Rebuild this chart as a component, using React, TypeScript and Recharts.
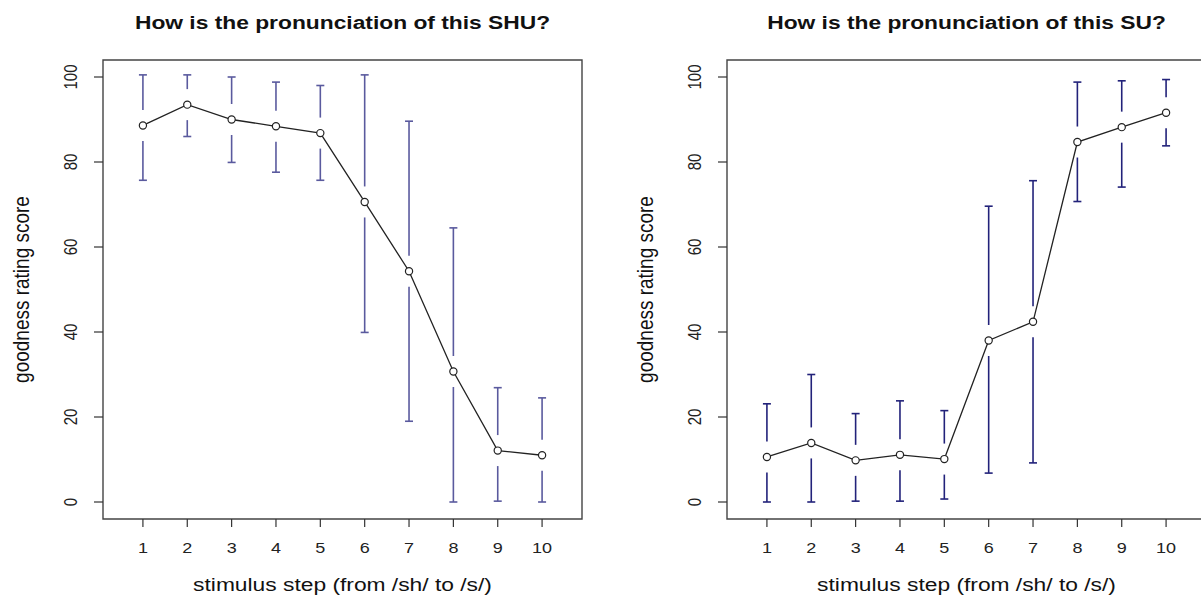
import { ComposedChart, Line, XAxis, YAxis, ReferenceArea, ReferenceLine } from 'recharts';

const steps = [1, 2, 3, 4, 5, 6, 7, 8, 9, 10];
const yTicks = [0, 20, 40, 60, 80, 100];

const shuMean = [88.6, 93.5, 90.0, 88.4, 86.8, 70.6, 54.3, 30.7, 12.1, 11.0];
const shuUpper = [100.5, 100.5, 100.0, 98.8, 98.0, 100.5, 89.6, 64.5, 26.9, 24.5];
const shuLower = [75.7, 86.0, 79.9, 77.6, 75.7, 39.9, 19.0, 0, 0.2, 0];

const suMean = [10.6, 13.9, 9.8, 11.1, 10.1, 38.0, 42.4, 84.7, 88.2, 91.6];
const suUpper = [23.1, 30.0, 20.8, 23.8, 21.5, 69.6, 75.6, 98.8, 99.1, 99.4];
const suLower = [0, 0, 0.2, 0.2, 0.7, 6.8, 9.2, 70.7, 74.1, 83.8];

const FONT = '"Liberation Sans", Arial, sans-serif';
const SX = 1.2; // the source image is stretched horizontally
const GAP = 15.5;
const CAP = 4;

const XTick = (props: any) => {
  const { x, y, payload } = props;
  return (
    <text transform={`translate(${x},${y + 26}) scale(${SX},1)`} textAnchor="middle"
      fontSize={15} fill="#222" fontFamily={FONT}>
      {payload.value}
    </text>
  );
};

const YTick = (props: any) => {
  const { x, y, payload } = props;
  return (
    <text transform={`translate(${x - 17.5},${y}) scale(${SX},1) rotate(-90)`} textAnchor="middle"
      fontSize={15} fill="#222" fontFamily={FONT}>
      {payload.value}
    </text>
  );
};

const whisker = (color: string) => (props: any) => {
  const { x1, y1, y2 } = props;
  const dir = y2 > y1 ? 1 : -1;
  const end = y2 - dir * GAP;
  if ((end - y1) * dir <= 0) return <g />;
  return (
    <g>
      <line x1={x1} x2={x1} y1={y1} y2={end} stroke={color} strokeWidth={1.6} />
      <line x1={x1 - CAP} x2={x1 + CAP} y1={y1} y2={y1} stroke={color} strokeWidth={1.6} />
    </g>
  );
};

const Titles = (title: string) => (props: any) => {
  const { x, y, width, height } = props.viewBox;
  const cx = x + width / 2;
  return (
    <g fontFamily={FONT}>
      <text transform={`translate(${cx},${y - 30.7}) scale(${SX},1)`} textAnchor="middle"
        fontSize={19} fontWeight="bold" fill="#111">{title}</text>
      <text transform={`translate(${cx},${y + height + 72}) scale(${SX},1)`} textAnchor="middle"
        fontSize={19} fill="#111">stimulus step (from /sh/ to /s/)</text>
      <text transform={`translate(${x - 74.5},${y + height / 2}) scale(${SX},1) rotate(-90)`}
        textAnchor="middle" fontSize={19} fill="#111">goodness rating score</text>
    </g>
  );
};

type PanelProps = {
  title: string;
  mean: number[];
  upper: number[];
  lower: number[];
  color: string;
  left: number;
};

const Panel = ({ title, mean, upper, lower, color, left }: PanelProps) => {
  const data = steps.map((s, i) => ({ step: s, mean: mean[i] }));
  const bar = whisker(color);
  return (
    <div style={{ position: 'absolute', left, top: 0 }}>
      <ComposedChart width={600} height={596} data={data}
        margin={{ top: 60, right: 18, bottom: 0, left: 0 }}>
        <XAxis type="number" dataKey="step" domain={[0.1, 10.9]} ticks={steps} interval={0}
          allowDataOverflow axisLine={false} tickSize={8} tickMargin={0} height={77}
          tickLine={{ stroke: '#333', strokeWidth: 1.2 }} tick={<XTick />} />
        <YAxis type="number" domain={[-4, 104]} ticks={yTicks} interval={0} allowDataOverflow
          axisLine={false} tickSize={9} tickMargin={0} width={103}
          tickLine={{ stroke: '#333', strokeWidth: 1.2 }} tick={<YTick />} />
        <ReferenceArea x1={0.1} x2={10.9} y1={-4} y2={104} fill="none" fillOpacity={0}
          stroke="#444" strokeWidth={1.4} ifOverflow="visible"
          label={{ content: Titles(title) }} />
        {steps.map((s, i) => (
          <ReferenceLine key={`u${s}`} segment={[{ x: s, y: upper[i] }, { x: s, y: mean[i] }]}
            ifOverflow="visible" shape={bar} />
        ))}
        {steps.map((s, i) => (
          <ReferenceLine key={`l${s}`} segment={[{ x: s, y: lower[i] }, { x: s, y: mean[i] }]}
            ifOverflow="visible" shape={bar} />
        ))}
        <Line type="linear" dataKey="mean" stroke="#222" strokeWidth={1.3}
          dot={{ r: 3.6, fill: '#fff', stroke: '#222', strokeWidth: 1.2 }}
          activeDot={false} isAnimationActive={false} />
      </ComposedChart>
    </div>
  );
};

export default function App() {
  return (
    <div style={{ position: 'absolute', left: 0, top: 0, width: 1201, height: 596,
      overflow: 'hidden', background: '#fff' }}>
      <Panel title="How is the pronunciation of this SHU?" mean={shuMean} upper={shuUpper}
        lower={shuLower} color="#5a5a9e" left={0} />
      <Panel title="How is the pronunciation of this SU?" mean={suMean} upper={suUpper}
        lower={suLower} color="#22227a" left={624} />
    </div>
  );
}
